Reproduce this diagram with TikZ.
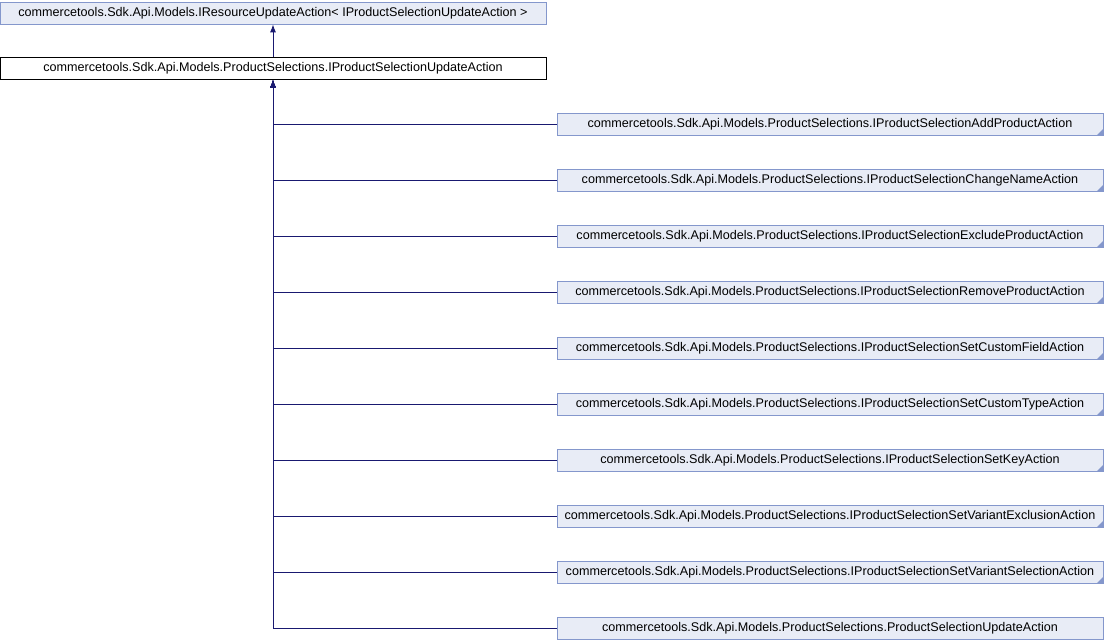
\documentclass[tikz,border=0pt]{standalone}
\usepackage{fontspec}
\setmainfont{Liberation Sans}
\usetikzlibrary{arrows.meta,positioning}
\definecolor{boxfill}{HTML}{E8ECF6}
\definecolor{boxline}{HTML}{8497CC}
\definecolor{edgecol}{HTML}{191970}
\tikzstyle{iface} = [rectangle, minimum width=546pt, minimum height=22pt, inner sep=0pt, text centered, draw=boxline, fill=boxfill, line width=0.8pt, font=\fontsize{12.6}{14}\selectfont]
\tikzstyle{current} = [iface, draw=black, fill=white]
\tikzstyle{derived} = [iface, path picture={\fill[boxline] (path picture bounding box.south east) -- ++(-6pt,0) -- ++(6pt,6pt) -- cycle;}]
\tikzstyle{inherit} = [draw=edgecol, line width=0.9pt, -{Latex[length=8pt,width=6pt]}]

\begin{document}
\begin{tikzpicture}[x=1pt, y=1pt]
    \useasboundingbox (0,0) rectangle (1104,-640);

    % base classes
    \node(res)[iface] at (273,-13){commercetools.Sdk.Api.Models.IResourceUpdateAction< IProductSelectionUpdateAction >};
    \node(upd)[current] at (273,-68.5){commercetools.Sdk.Api.Models.ProductSelections.IProductSelectionUpdateAction};

    % derived actions
    \node(add)[derived] at (830,-124){commercetools.Sdk.Api.Models.ProductSelections.IProductSelectionAddProductAction};
    \node(chname)[derived, below=33.2pt of add]{commercetools.Sdk.Api.Models.ProductSelections.IProductSelectionChangeNameAction};
    \node(exclude)[derived, below=33.2pt of chname]{commercetools.Sdk.Api.Models.ProductSelections.IProductSelectionExcludeProductAction};
    \node(remove)[derived, below=33.2pt of exclude]{commercetools.Sdk.Api.Models.ProductSelections.IProductSelectionRemoveProductAction};
    \node(cfield)[derived, below=33.2pt of remove]{commercetools.Sdk.Api.Models.ProductSelections.IProductSelectionSetCustomFieldAction};
    \node(ctype)[derived, below=33.2pt of cfield]{commercetools.Sdk.Api.Models.ProductSelections.IProductSelectionSetCustomTypeAction};
    \node(key)[derived, below=33.2pt of ctype]{commercetools.Sdk.Api.Models.ProductSelections.IProductSelectionSetKeyAction};
    \node(vexcl)[derived, below=33.2pt of key]{commercetools.Sdk.Api.Models.ProductSelections.IProductSelectionSetVariantExclusionAction};
    \node(vsel)[derived, below=33.2pt of vexcl]{commercetools.Sdk.Api.Models.ProductSelections.IProductSelectionSetVariantSelectionAction};
    \node(impl)[iface, below=33.2pt of vsel]{commercetools.Sdk.Api.Models.ProductSelections.ProductSelectionUpdateAction};

    \draw[inherit] (upd) -- (res);
    \draw[inherit] (add.west) -| (upd.south);
    \draw[inherit] (chname.west) -| (upd.south);
    \draw[inherit] (exclude.west) -| (upd.south);
    \draw[inherit] (remove.west) -| (upd.south);
    \draw[inherit] (cfield.west) -| (upd.south);
    \draw[inherit] (ctype.west) -| (upd.south);
    \draw[inherit] (key.west) -| (upd.south);
    \draw[inherit] (vexcl.west) -| (upd.south);
    \draw[inherit] (vsel.west) -| (upd.south);
    \draw[inherit] (impl.west) -| (upd.south);

\end{tikzpicture}
\end{document}
